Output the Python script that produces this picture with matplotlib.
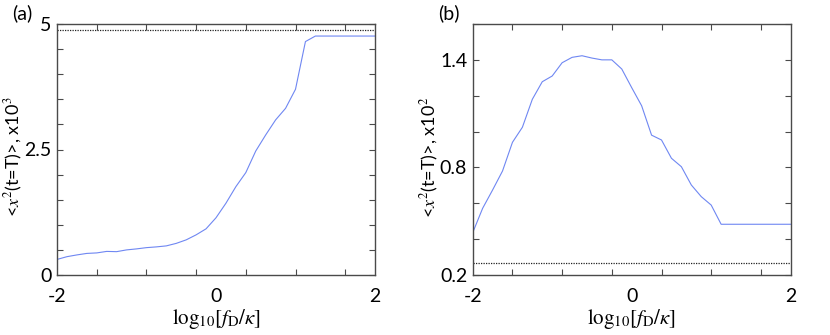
import numpy as np
import matplotlib
matplotlib.use("Agg")
import matplotlib.pyplot as plt
from matplotlib.ticker import FixedLocator, NullFormatter

plt.rcParams['font.family'] = ['Lato', 'DejaVu Sans']
plt.rcParams['mathtext.fontset'] = 'stix'

# x grid: log10(f_D / kappa)
x_vals = [-2.0, -1.875, -1.75, -1.625, -1.5, -1.375, -1.25, -1.125, -1.0,
          -0.875, -0.75, -0.625, -0.5, -0.375, -0.25, -0.125, 0.0,
          0.125, 0.25, 0.375, 0.5, 0.625, 0.75, 0.875, 1.0,
          1.125, 1.25, 1.375, 1.5, 1.625, 1.75, 1.875, 2.0]

# panel (a): <x^2(t=T)>, x10^3
y_a = [0.31, 0.365, 0.40, 0.43, 0.44, 0.47, 0.465, 0.50, 0.52,
       0.545, 0.56, 0.58, 0.63, 0.70, 0.80, 0.92, 1.14,
       1.43, 1.76, 2.04, 2.47, 2.79, 3.09, 3.32, 3.70,
       4.65, 4.76, 4.76, 4.76, 4.76, 4.76, 4.76, 4.76]
ref_a = 4.88

# panel (b): <x^2(t=T)>, x10^2
y_b = [0.436, 0.572, 0.674, 0.78, 0.94, 1.024, 1.18, 1.278, 1.31,
       1.384, 1.414, 1.423, 1.41, 1.40, 1.40, 1.349, 1.245,
       1.144, 0.98, 0.953, 0.851, 0.804, 0.702, 0.637, 0.59,
       0.483, 0.483, 0.483, 0.483, 0.483, 0.483, 0.483, 0.483]
ref_b = 0.265

x_labels = ['-2', '0', '2']
x_label_pos = [-2, 0, 2]
x_mark_pos = [-1.5, -0.875, -0.25, 0.375, 1.0, 1.625]

line_color = '#6f87f2'
spine_color = '#4a4a4a'

fig = plt.figure(figsize=(8.3, 3.35), dpi=100)
ax_a = fig.add_axes([57/830, 60/335, 318/830, 251/335])
ax_b = fig.add_axes([472.7/830, 60/335, 318/830, 251/335])

def style(ax, ylim, yticks, ylabels_pos, ylabels, ylab, ylab_x):
    ax.set_xlim(-2, 2)
    ax.set_ylim(*ylim)
    # x: labels without marks, marks without labels
    ax.xaxis.set_major_locator(FixedLocator(x_label_pos))
    ax.set_xticklabels(x_labels)
    ax.xaxis.set_minor_locator(FixedLocator(x_mark_pos))
    ax.tick_params(axis='x', which='major', length=0, pad=9, labelsize=14)
    ax.tick_params(axis='x', which='minor', length=4, direction='in',
                   top=True, bottom=True, width=0.8, color=spine_color)
    # y: marks everywhere, labels at selected
    ax.yaxis.set_major_locator(FixedLocator(yticks))
    ax.set_yticklabels([(ylabels[ylabels_pos.index(t)] if t in ylabels_pos else '')
                        for t in yticks])
    ax.tick_params(axis='y', which='major', length=4, direction='in',
                   left=True, right=True, width=0.8, color=spine_color,
                   labelsize=14, pad=4)
    for s in ax.spines.values():
        s.set_color(spine_color)
        s.set_linewidth(1.0)
    ax.set_xlabel(r'$\mathrm{log}_{10}[f_{\mathrm{D}}/\kappa]$', fontsize=15, labelpad=2)
    ax.set_ylabel(ylab, fontsize=13, va='center')
    ax.yaxis.set_label_coords(ylab_x, 0.47)

ax_a.plot(x_vals, y_a, color=line_color, lw=0.8)
ax_a.axhline(ref_a, color='#222222', lw=0.9, ls=(0, (1, 1)))
style(ax_a, (0, 5), [0, 0.5, 1, 1.5, 2, 2.5, 3, 3.5, 4, 4.5, 5],
      [0, 2.5, 5], ['0', '2.5', '5'],
      r'<$x^{2}$(t=T)>, x10$^{3}$', (14 - 57) / 318)

ax_b.plot(x_vals, y_b, color=line_color, lw=0.8)
ax_b.axhline(ref_b, color='#222222', lw=0.9, ls=(0, (1, 1)))
style(ax_b, (0.2, 1.6), [0.2, 0.4, 0.6, 0.8, 1.0, 1.2, 1.4, 1.6],
      [0.2, 0.8, 1.4], ['0.2', '0.8', '1.4'],
      r'<$x^{2}$(t=T)>, x10$^{2}$', (430 - 472.7) / 318)

fig.text(22/830, 1 - 13/335, '(a)', fontsize=14, ha='center', va='center')
fig.text(449/830, 1 - 13/335, '(b)', fontsize=14, ha='center', va='center')

fig.savefig('out.png', dpi=100)
